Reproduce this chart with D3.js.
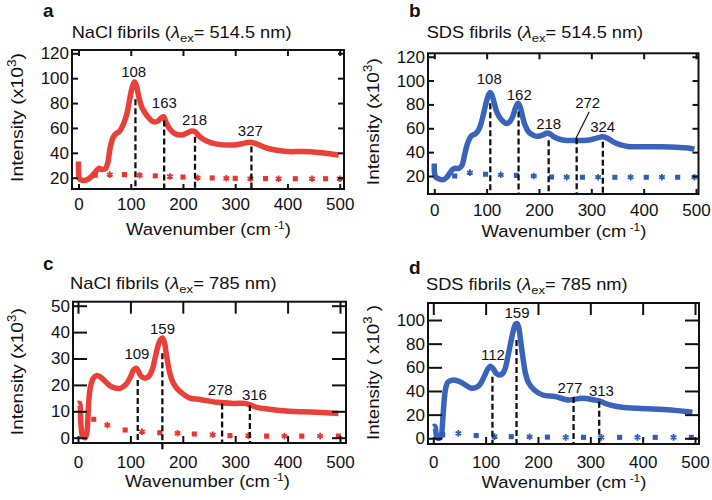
<!DOCTYPE html>
<html><head><meta charset="utf-8">
<script src="https://cdn.jsdelivr.net/npm/d3@7"></script>
<style>body{margin:0;background:#fff}svg{display:block}text{font-family:"Liberation Sans",Arial,sans-serif;fill:#111}</style>
</head><body><svg id="chart" width="712" height="500"></svg>
<script>
// ---------- DATA ----------
const xTicks = [0, 100, 200, 300, 400, 500];

// Panel a: NaCl fibrils, 514.5 nm
const aWave = [0,0.5,2,6,16,25,33,39,46,52,56,61,67,72,78,86,93,98,103,107,110,115,121,131,143,152,158,163,168,176,184,198,208,216,223,232,245,265,297,315,329,342,361,380,400,430,460,480,498];
const aInt  = [33,22,19,18,18.3,21,25,27.5,26.5,27.5,32,45,53,55.5,57,63,72,83,93,97,95,86,77,70,65,65.5,68,69,64,58.5,55.5,54.3,56,57.5,57,53,49.5,47,46.3,47.5,48.5,47,43.8,42,41,41,40.2,39.3,38.2];
const aDotWave = [32,60,88,117,147,175,200,228,256,283,300,329,358,383,415,447,473,500];
const aDotInt  = [22,22.5,22.5,22,21.5,21,20.5,20,19.8,19.6,19.5,19.3,19.3,19.2,19.2,19.2,19.2,19.2];
const aPeakLabels = ["108","163","218","327"];
const aPeakLabelWave = [105.7,164.4,222,329];
const aPeakLabelInt  = [105,80,67,58];
const aPeakLineWave = [109,164,223,331];
const aPeakLineTop  = [83,66,53,45];
const aYTicks = [20,40,60,80,100,120];

// Panel b: SDS fibrils, 514.5 nm
const bWave = [0,0.5,3,7,16,24,29,35,40,47,53,58,62,67,72,79,85,90,95,100,104,107,110,114,119,125,132,138,144,150,155,160,164,168,173,180,190,198,208,216,222,230,245,271,296,312,322,332,341,356,373,400,424,462,485,497];
const bInt  = [30.5,22,19,18,16.8,19,22,25.5,26.5,26.3,29,38,45,51,54,55.5,59,65,74,83,88.5,90,88,82,74,69,65.5,64,65.5,70,77,81,78,71,63,57,54,53.3,54.5,56,55,52.5,50.2,49.7,50.2,52,53,51.5,48.8,46,44.6,44.6,44.5,44.2,43.5,42.5];
const bDotWave = [39,68,98,127,157,190,224,253,283,313,345,375,405,435,465,497];
const bDotInt  = [20,22.8,21.5,21,20.5,20,19.2,19,19,19,19,19,19,19,19,19];
const bPeakLabels = ["108","162","218","272","324"];
const bPeakLabelWave = [105,162.4,218.6,293,321.7];
const bPeakLabelInt  = [101.3,88.5,63.6,81.4,61.3];
const bPeakLineWave = [107,161,218.5,272,322];
const bPeakLineTop  = [81,74,50,51.6,48.7];
const bLeaderWave = [296,270.7];
const bLeaderInt  = [73.9,51.6];
const bYTicks = [20,40,60,80,100,120];

// Panel c: NaCl fibrils, 785 nm
const cWave = [0,3,5,8,11,14,17,19,21,24,29,36,44,52,64,80,92,100,106,111,115,120,128,136,142,148,153,157,161,165,169,174,180,188,196,214,233,265,297,319,330,341,365,392,430,456,497];
const cInt  = [13,13,7,1,0.2,0,2,8,15,19.5,22.5,23.6,22.8,21.3,19.3,18.7,20.3,23,25.6,26.3,25.3,23.4,22.5,23.4,26,31,35,37,37.8,36,31,25.5,21.5,18.8,17.3,15,14.5,13.4,13,13,12.3,11.5,10.8,10.2,9.8,9.6,9.2];
const cDotWave = [30,56,90,122,156,190,222,257,290,325,360,394,427,462,497];
const cDotInt  = [7,4.8,2.9,2.3,1.9,1.7,1.4,1.1,0.8,0.8,0.6,0.6,0.6,0.6,0.6];
const cPeakLabels = ["109","159","278","316"];
const cPeakLabelWave = [112.5,161.3,271.3,336.7];
const cPeakLabelInt  = [32,41.2,18.4,16.4];
const cPeakLineWave = [114,161,275,328];
const cPeakLineTop  = [21.9,32,13,12.4];
const cYTicks = [0,10,20,30,40,50];

// Panel d: SDS fibrils, 785 nm
const dWave = [0,3,5,7,11,14,16,18,21,24,28,38,48,58,73,84,90,98,104,109,114,120,126,133,138,143,148,153,157,160,163,167,171,176,182,193,209,233,258,270,284,308,318,328,353,391,454,495];
const dInt  = [9.8,10,5,0.5,0,1,4,15,33,43,47.5,49.3,48.3,46,42.3,43.5,46,53,58.5,61,59,55,53.5,55,60,70,81,91,96.5,97,94,82,69,55,47,40.8,36.6,35.2,32.4,33,33.8,32.4,31.5,29.6,26.7,25.4,23.9,22];
const dDotWave = [18,48,82,117,149,184,218,253,287,321,356,390,424,459,493];
const dDotInt  = [3,4.2,2.3,1.4,1.4,1.2,1,0.8,0.8,0.8,0.8,0.8,0.8,0.8,0.8];
const dPeakLabels = ["112","159","277","313"];
const dPeakLabelWave = [113.9,160,261,321.3];
const dPeakLabelInt  = [71,106.5,43,40];
const dPeakLineWave = [113,159,268,317];
const dPeakLineTop  = [52,83,35,31];
const dYTicks = [0,20,40,60,80,100];

const panelLetters = ["a","b","c","d"];
const sampleNames = ["NaCl fibrils (","SDS fibrils (","NaCl fibrils (","SDS fibrils ("];
const excitations = ["= 514.5 nm)","= 514.5 nm)","= 785 nm)","= 785 nm)"];
const yLabelMain = ["Intensity (x10","Intensity (x10","Intensity (x10","Intensity ( x10"];
const yLabelEnd  = [")",")",")"," )"];

const RED = "#e8362f", BLUE = "#2e5cb6";

// ---------- LAYOUT ----------
const panels = [
 {wave:aWave,int:aInt,dw:aDotWave,di:aDotInt,pl:aPeakLabels,plw:aPeakLabelWave,pli:aPeakLabelInt,lw:aPeakLineWave,lt:aPeakLineTop,yt:aYTicks,color:RED,
  box:{l:72,r:344,t:50,b:189}, x0:78.5, x500:339.7, yv:[20,120], yp:[177.7,53.3], tl:{v:6,h:6,bot:5},
  letter:[43,17], title:[71.7,37.7,220], xlab:[208.5,235,165], xtickPad:9, ylab:[23,117.5,129], extendIdx:-1},
 {wave:bWave,int:bInt,dw:bDotWave,di:bDotInt,pl:bPeakLabels,plw:bPeakLabelWave,pli:bPeakLabelInt,lw:bPeakLineWave,lt:bPeakLineTop,yt:bYTicks,color:BLUE,
  box:{l:428,r:698.5,t:53.3,b:194}, x0:434.3, x500:696, yv:[20,120], yp:[176,56.7], tl:{v:6,h:6,bot:5},
  letter:[409,17], title:[426.7,37.7,216.7], xlab:[564,237,165], xtickPad:10, ylab:[379,121.7,127], extendIdx:-1, leader:true},
 {wave:cWave,int:cInt,dw:cDotWave,di:cDotInt,pl:cPeakLabels,plw:cPeakLabelWave,pli:cPeakLabelInt,lw:cPeakLineWave,lt:cPeakLineTop,yt:cYTicks,color:RED,
  box:{l:73,r:346,t:301.7,b:443}, x0:78, x500:340, yv:[0,50], yp:[437.7,305.7], tl:{v:12,h:14,bot:7},
  letter:[43,270], title:[70,289,206.7], xlab:[207.5,487,165], xtickPad:13, ylab:[23,371.7,127], extendIdx:1},
 {wave:dWave,int:dInt,dw:dDotWave,di:dDotInt,pl:dPeakLabels,plw:dPeakLabelWave,pli:dPeakLabelInt,lw:dPeakLineWave,lt:dPeakLineTop,yt:dYTicks,color:BLUE,
  box:{l:428,r:699,t:303,b:444}, x0:433.3, x500:695, yv:[0,100], yp:[438.3,320], tl:{v:12,h:14,bot:7},
  letter:[409,274], title:[426,290,201.7], xlab:[564,488,165], xtickPad:12, ylab:[379,372.5,135], extendIdx:-1}
];

const svg = d3.select("#chart");

function fit(sel, target, x, y, rot) {
  const w = sel.node().getBBox().width;
  const s = target / w;
  sel.attr("transform", `translate(${x},${y})` + (rot ? ` rotate(${rot})` : "") + ` scale(${s},1)`);
}

panels.forEach((p, i) => {
  const g = svg.append("g");
  const B = p.box;
  const x = d3.scaleLinear().domain([0, 500]).range([p.x0, p.x500]);
  const y = d3.scaleLinear().domain(p.yv).range(p.yp);

  const clipId = "clip" + i;
  g.append("clipPath").attr("id", clipId).append("rect")
    .attr("x", B.l).attr("y", B.t).attr("width", B.r - B.l).attr("height", B.b - B.t);
  const plot = g.append("g").attr("clip-path", `url(#${clipId})`);

  // sparse dotted series
  const dots = p.dw.map((w, k) => ({w, v: p.di[k], k}));
  plot.selectAll("path.dot").data(dots).enter().append("path")
    .attr("class", "dot")
    .attr("transform", d => `translate(${x(d.w)},${y(d.v)})`)
    .attr("d", d => d3.symbol().type(d.k % 2 === 0 ? d3.symbolSquare : d3.symbolAsterisk).size(d.k % 2 === 0 ? 26 : 30)())
    .attr("fill", p.color).attr("stroke", p.color).attr("stroke-width", d => d.k % 2 === 0 ? 0 : 1.8);

  // main spectrum
  const pts = p.wave.map((w, k) => [w, p.int[k]]);
  const line = d3.line().x(d => x(d[0])).y(d => y(d[1])).curve(d3.curveCatmullRom.alpha(0.5));
  plot.append("path").attr("d", line(pts)).attr("fill", "none")
    .attr("stroke", p.color).attr("stroke-width", 5.5).attr("stroke-linejoin", "round").attr("opacity", 0.95);

  // dashed peak markers
  p.lw.forEach((w, k) => {
    g.append("line")
      .attr("x1", x(w)).attr("x2", x(w))
      .attr("y1", y(p.lt[k])).attr("y2", B.b + (k === p.extendIdx ? 7 : 0))
      .attr("stroke", "#111").attr("stroke-width", 2.3).attr("stroke-dasharray", "6,3");
  });
  if (p.leader) {
    g.append("line")
      .attr("x1", x(bLeaderWave[0])).attr("y1", y(bLeaderInt[0]))
      .attr("x2", x(bLeaderWave[1])).attr("y2", y(bLeaderInt[1]))
      .attr("stroke", "#111").attr("stroke-width", 1.2);
  }
  // peak labels
  p.pl.forEach((t, k) => {
    g.append("text").attr("x", x(p.plw[k])).attr("y", y(p.pli[k])).attr("dy", "0.36em")
      .attr("text-anchor", "middle").attr("font-size", 15).text(t);
  });

  // axes (inward ticks)
  const ax = [];
  ax.push(g.append("g").attr("transform", `translate(0,${B.b})`)
    .call(d3.axisBottom(x).tickValues(xTicks).tickSizeInner(-p.tl.bot).tickSizeOuter(0).tickPadding(p.xtickPad)));
  ax.push(g.append("g").attr("transform", `translate(0,${B.t})`)
    .call(d3.axisTop(x).tickValues(xTicks).tickSizeInner(-p.tl.v).tickSizeOuter(0).tickFormat("")));
  ax.push(g.append("g").attr("transform", `translate(${B.l},0)`)
    .call(d3.axisLeft(y).tickValues(p.yt).tickSizeInner(-p.tl.h).tickSizeOuter(0).tickPadding(3)));
  ax.push(g.append("g").attr("transform", `translate(${B.r},0)`)
    .call(d3.axisRight(y).tickValues(p.yt).tickSizeInner(-p.tl.h).tickSizeOuter(0).tickFormat("")));
  ax.forEach(a => {
    a.select(".domain").remove();
    a.selectAll("line").attr("stroke", "#111").attr("stroke-width", 2);
    a.selectAll("text").attr("font-size", 17).attr("fill", "#111").attr("font-family", "Liberation Sans, Arial, sans-serif");
  });

  // frame
  g.append("rect").attr("x", B.l).attr("y", B.t).attr("width", B.r - B.l).attr("height", B.b - B.t)
    .attr("fill", "none").attr("stroke", "#111").attr("stroke-width", 2);

  // panel letter
  g.append("text").attr("x", p.letter[0]).attr("y", p.letter[1]).attr("font-size", 19).attr("font-weight", "bold").text(panelLetters[i]);

  // title
  const tt = g.append("text").attr("font-size", 16);
  tt.append("tspan").text(sampleNames[i]);
  tt.append("tspan").attr("font-style", "italic").text("λ");
  tt.append("tspan").attr("font-size", 11.5).attr("dy", 4).text("ex");
  tt.append("tspan").attr("dy", -4).text(excitations[i]);
  fit(tt, p.title[2], p.title[0], p.title[1]);

  // x-axis label
  const xl = g.append("text").attr("font-size", 17).attr("text-anchor", "middle");
  xl.append("tspan").text("Wavenumber (cm");
  xl.append("tspan").attr("font-size", 11).attr("dy", -6).text(" -1");
  xl.append("tspan").attr("dy", 6).text(")");
  fit(xl, p.xlab[2], p.xlab[0], p.xlab[1]);

  // y-axis label
  const yl = g.append("text").attr("font-size", 17).attr("text-anchor", "middle");
  yl.append("tspan").text(yLabelMain[i]);
  yl.append("tspan").attr("font-size", 12).attr("dy", -7).text("3");
  yl.append("tspan").attr("dy", 7).text(yLabelEnd[i]);
  fit(yl, p.ylab[2], p.ylab[0], p.ylab[1], -90);
});
</script></body></html>
